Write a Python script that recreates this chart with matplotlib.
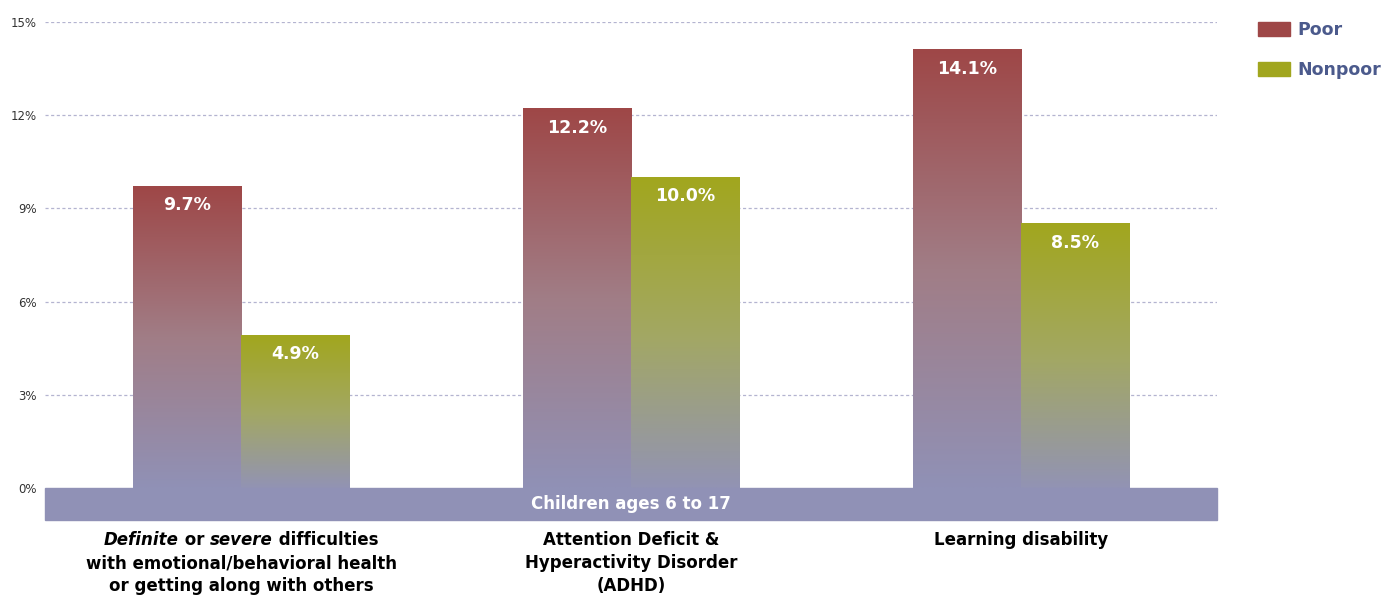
import numpy as np
import matplotlib.pyplot as plt
from matplotlib.colors import to_rgb
from matplotlib.patches import Patch, Rectangle

# values (percent of children ages 6 to 17)
categories = [
    [[("Definite", "italic"), (" or ", "normal"), ("severe", "italic"), (" difficulties", "normal")],
     [("with emotional/behavioral health", "normal")],
     [("or getting along with others", "normal")]],
    [[("Attention Deficit &", "normal")],
     [("Hyperactivity Disorder", "normal")],
     [("(ADHD)", "normal")]],
    [[("Learning disability", "normal")]],
]
poor = [9.7, 12.2, 14.1]
nonpoor = [4.9, 10.0, 8.5]
series_names = ["Poor", "Nonpoor"]
yticks = [0, 3, 6, 9, 12, 15]
band_text = "Children ages 6 to 17"

POOR_STOPS = ["#9e4747", "#a17d86", "#9091b6"]
NONPOOR_STOPS = ["#a1a61e", "#a3a862", "#9293b4"]
BOTTOM = "#9091b6"
NAVY = "#4b5a8c"


def gradient_bar(ax, x0, width, height, stops):
    c = [np.array(to_rgb(s)) for s in stops]
    t = np.linspace(0, 1, 256)[:, None]
    first = c[0] * (1 - 2 * t) + c[1] * (2 * t)
    second = c[1] * (2 - 2 * t) + c[2] * (2 * t - 1)
    img = np.where(t < 0.5, first, second)
    ax.imshow(img[:, None, :], extent=[x0, x0 + width, 0, height],
              aspect="auto", interpolation="bilinear", zorder=2)


fig = plt.figure(figsize=(13.95, 5.99), dpi=100)
ax = fig.add_axes([45 / 1395, (599 - 520.3) / 599, 1172 / 1395, 498.3 / 599])

x = np.arange(len(poor))
w = 0.277
for i in range(len(poor)):
    gradient_bar(ax, x[i] - w, w, poor[i], POOR_STOPS)
    gradient_bar(ax, x[i], w, nonpoor[i], NONPOOR_STOPS)
    ax.text(x[i] - w / 2, poor[i] - 0.6, f"{poor[i]:.1f}%", ha="center", va="center",
            color="white", fontsize=12.5, fontweight="bold", zorder=4)
    ax.text(x[i] + w / 2, nonpoor[i] - 0.6, f"{nonpoor[i]:.1f}%", ha="center", va="center",
            color="white", fontsize=12.5, fontweight="bold", zorder=4)

ax.set_xlim(-0.5026, 2.5026)
ax.set_ylim(-1.04, 15)

# band under the bars
ax.add_patch(Rectangle((-0.5026, -1.04), 3.0052, 1.04, color=BOTTOM, zorder=3,
                       clip_on=False))
ax.text(1, -0.52, band_text, ha="center", va="center", color="white",
        fontsize=12, fontweight="bold", zorder=4)

for yv in yticks[1:]:
    ax.axhline(yv, color="#b4b4d0", lw=0.9, ls=(0, (2.5, 2)), zorder=1)
ax.set_yticks(yticks)
ax.set_yticklabels([f"{v}%" for v in yticks], fontsize=8.5, color="#333333")
ax.tick_params(axis="y", length=0, pad=6)
ax.set_xticks([])
for s in ax.spines.values():
    s.set_visible(False)

# category labels with mixed italic runs
fig.canvas.draw()
renderer = fig.canvas.get_renderer()
for i, lines in enumerate(categories):
    xc = ax.transData.transform((x[i], 0))[0]
    for j, runs in enumerate(lines):
        ypix = 599 - (540 + 23 * j)
        pieces = []
        total = 0
        for txt, style in runs:
            t = fig.text(0, 0, txt, fontsize=12, fontweight="bold", style=style,
                         ha="left", va="center")
            bb = t.get_window_extent(renderer)
            pieces.append((t, bb.width))
            total += bb.width
        xp = xc - total / 2
        for t, wd in pieces:
            t.set_position((xp / 1395, ypix / 599))
            xp += wd

handles = [Patch(color=POOR_STOPS[0]), Patch(color=NONPOOR_STOPS[0])]
leg = fig.legend(handles, series_names, loc="upper left",
                 bbox_to_anchor=(1258 / 1395, 1 - 21 / 599), frameon=False,
                 borderpad=0, borderaxespad=0, handlelength=1.85, handleheight=0.85,
                 handletextpad=0.4, labelspacing=1.25,
                 prop={"size": 12.5, "weight": "bold"})
for t in leg.get_texts():
    t.set_color(NAVY)

fig.savefig("out.png", dpi=100)
